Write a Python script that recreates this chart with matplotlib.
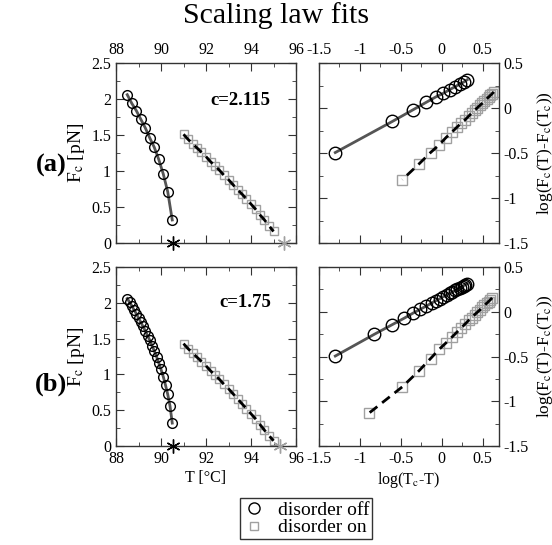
import numpy as np
import matplotlib
matplotlib.use('Agg')
import matplotlib.pyplot as plt
from matplotlib.lines import Line2D
from matplotlib.ticker import MultipleLocator

plt.rcParams['font.family'] = ['Liberation Serif', 'DejaVu Serif']
plt.rcParams['mathtext.fontset'] = 'stix'

# disorder off (circles), T in degC, F in pN
circ_T_a = [88.5, 88.7, 88.9, 89.1, 89.3, 89.5, 89.7, 89.9, 90.1, 90.3, 90.5]
circ_F_a = [2.06, 1.94, 1.84, 1.72, 1.60, 1.46, 1.33, 1.16, 0.96, 0.71, 0.32]
circ_T_b = [88.5, 88.6, 88.7, 88.8, 88.9, 89.0, 89.1, 89.2, 89.3, 89.4, 89.5,
            89.6, 89.7, 89.8, 89.9, 90.0, 90.1, 90.2, 90.3, 90.4, 90.5]
circ_F_b = [2.06, 2.01, 1.96, 1.90, 1.85, 1.79, 1.73, 1.67, 1.61, 1.54, 1.48,
            1.40, 1.33, 1.25, 1.16, 1.07, 0.97, 0.85, 0.72, 0.56, 0.32]

# disorder on (squares)
sq_T = [91.0, 91.2, 91.4, 91.6, 91.8, 92.0, 92.2, 92.4, 92.6, 92.8, 93.0,
        93.2, 93.4, 93.6, 93.8, 94.0, 94.2, 94.4, 94.6, 94.8, 95.0]
sq_F_a = [1.51, 1.44, 1.38, 1.32, 1.26, 1.20, 1.13, 1.07, 1.01, 0.94, 0.88,
          0.81, 0.74, 0.68, 0.61, 0.54, 0.47, 0.39, 0.32, 0.24, 0.16]
sq_F_b = [1.43, 1.36, 1.30, 1.24, 1.18, 1.12, 1.05, 0.99, 0.93, 0.86, 0.80,
          0.73, 0.66, 0.59, 0.52, 0.45, 0.38, 0.30, 0.22, 0.145, 0.074]

# critical temperatures used for the log-log panels
tc_off = 90.55
tc_on_a = 95.33
tc_on_b = 95.13
star_on_a = 95.45
star_on_b = 95.30
c_labels = ['c=2.115', 'c=1.75']

W, H = 552, 545
fig = plt.figure(figsize=(W / 100, H / 100), dpi=100)

def frac(l, t, r, b):
    return [l / W, 1 - b / H, (r - l) / W, (b - t) / H]

spine_col = '#333333'
sq_col = '#a0a0a0'


def style(ax, top):
    ax.tick_params(which='both', direction='in', top=True, bottom=True,
                   left=True, right=True, labelsize=11.5, colors=spine_col,
                   labelcolor='black')
    ax.tick_params(which='major', length=6)
    ax.tick_params(which='minor', length=3)
    for s in ax.spines.values():
        s.set_color(spine_col)
        s.set_linewidth(1.0)
    if top:
        ax.tick_params(labeltop=True, labelbottom=False)


rows = [
    (63, 243, circ_T_a, circ_F_a, sq_F_a, tc_on_a, star_on_a, True),
    (267, 446, circ_T_b, circ_F_b, sq_F_b, tc_on_b, star_on_b, False),
]

for i, (t, b, cT, cF, sF, tc_on, star_on, top) in enumerate(rows):
    # linear panel
    ax = fig.add_axes(frac(116, t, 296, b))
    ax.plot(cT, cF, color='#555555', lw=2, zorder=2)
    ax.plot(cT, cF, ls='none', marker='o', ms=7, mfc='none', mec='black',
            mew=1, zorder=3)
    ax.plot(sq_T, sF, ls='none', marker='s', ms=5.5, mfc='none', mec=sq_col,
            mew=1, zorder=2)
    ax.plot(sq_T, sF, color='black', lw=2, ls=(0, (3.5, 2.2)), zorder=3)
    ax.plot([tc_off], [0], ls='none', marker=(6, 2, 0), ms=10, color='black',
            mew=1, clip_on=False, zorder=5)
    ax.plot([star_on], [0], ls='none', marker=(6, 2, 0), ms=10, color=sq_col,
            mew=1, clip_on=False, zorder=5)
    ax.set_xlim(88, 96)
    ax.set_ylim(0, 2.5)
    ax.xaxis.set_minor_locator(MultipleLocator(1))
    ax.yaxis.set_minor_locator(MultipleLocator(0.25))
    ax.set_yticks([0, 0.5, 1, 1.5, 2, 2.5])
    ax.set_yticklabels(['0', '0.5', '1', '1.5', '2', '2.5'])
    ax.set_xticks([88, 90, 92, 94, 96])
    ax.set_xticklabels(['88', '90', '92', '94', '96'])
    style(ax, top)
    ax.set_ylabel('F$_\\mathrm{c}$ [pN]', fontsize=14, labelpad=3)
    ax.text(0.86, 0.79 if top else 0.80, c_labels[i], transform=ax.transAxes,
            ha='right', va='center', fontsize=13.5, fontweight='bold')
    if not top:
        ax.set_xlabel('T [°C]', fontsize=11.5, labelpad=2)

    # log-log panel
    ax2 = fig.add_axes(frac(319, t, 499, b))
    lx_c = np.log10(tc_off - np.array(cT))
    ly_c = np.log10(np.array(cF))
    lx_s = np.log10(tc_on - np.array(sq_T))
    ly_s = np.log10(np.array(sF))
    ax2.plot(lx_c, ly_c, color='#555555', lw=2, zorder=2)
    ax2.plot(lx_c, ly_c, ls='none', marker='o', ms=9, mfc='none', mec='black',
             mew=1, zorder=3)
    ax2.plot(lx_s, ly_s, ls='none', marker='s', ms=7, mfc='none', mec=sq_col,
             mew=1, zorder=2)
    ax2.plot(lx_s, ly_s, color='black', lw=2, ls=(0, (3.5, 2.2)), zorder=3)
    ax2.set_xlim(-1.5, 0.7)
    ax2.set_ylim(-1.5, 0.5)
    ax2.xaxis.set_minor_locator(MultipleLocator(0.25))
    ax2.yaxis.set_minor_locator(MultipleLocator(0.25))
    ax2.set_xticks([-1.5, -1, -0.5, 0, 0.5])
    ax2.set_xticklabels(['-1.5', '-1', '-0.5', '0', '0.5'])
    ax2.set_yticks([-1.5, -1, -0.5, 0, 0.5])
    ax2.set_yticklabels(['-1.5', '-1', '-0.5', '0', '0.5'])
    style(ax2, top)
    ax2.tick_params(labelleft=False, labelright=True)
    ax2.yaxis.set_label_position('right')
    ax2.set_ylabel('log(F$_\\mathrm{c}$(T)-F$_\\mathrm{c}$(T$_\\mathrm{c}$))',
                   fontsize=12.5, labelpad=4)
    if not top:
        ax2.set_xlabel('log(T$_\\mathrm{c}$-T)', fontsize=11.5, labelpad=2)

fig.text(0.5, 0.972, 'Scaling law fits', ha='center', va='center', fontsize=21.5)
fig.text(0.092, 0.697, '(a)', ha='center', va='center', fontsize=19,
         fontweight='bold')
fig.text(0.092, 0.294, '(b)', ha='center', va='center', fontsize=19,
         fontweight='bold')

handles = [
    Line2D([], [], ls='none', marker='o', ms=8, mfc='none', mec='black', mew=1),
    Line2D([], [], ls='none', marker='s', ms=6, mfc='none', mec=sq_col, mew=1),
]
leg = fig.legend(handles, ['disorder off', 'disorder on'], loc='center',
                 bbox_to_anchor=(0.554, 0.048), fontsize=14, frameon=True,
                 fancybox=False, edgecolor='black', handlelength=1.2,
                 handletextpad=0.6, borderpad=0.15, labelspacing=0.0,
                 borderaxespad=0)
leg.get_frame().set_linewidth(1.0)

fig.savefig('out.png', dpi=100)
